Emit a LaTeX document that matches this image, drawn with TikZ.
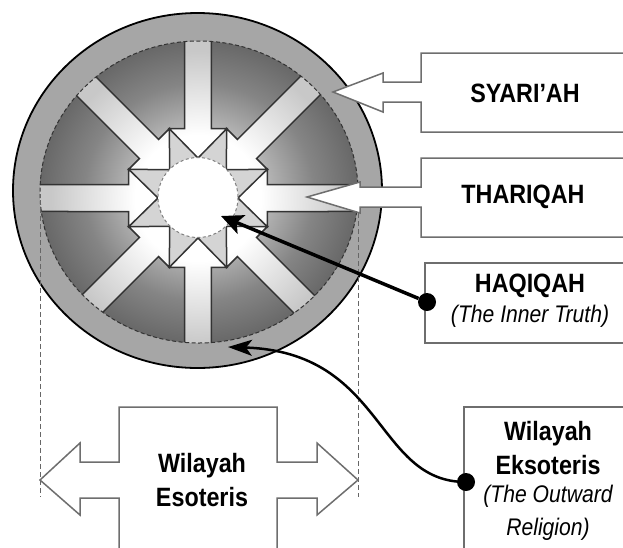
\documentclass[tikz,border=0pt]{standalone}
\usepackage{fontspec}
\setmainfont{Liberation Sans}
\newfontfamily\lab[FakeStretch=0.88]{Liberation Sans}
\usetikzlibrary{arrows.meta}
\definecolor{ringgray}{HTML}{A6A6A6}
\definecolor{discdark}{HTML}{686868}
\definecolor{discmid}{HTML}{858585}
\definecolor{disclight}{HTML}{B4B4B4}
\definecolor{gapgray}{HTML}{D4D4D4}
\definecolor{shaftgray}{HTML}{C8C8C8}
\definecolor{linegray}{HTML}{333333}
\definecolor{boxgray}{HTML}{6E6E6E}
\pgfdeclareradialshading{discshade}{\pgfpoint{0bp}{0bp}}{color(0bp)=(white); color(5bp)=(white); color(11bp)=(disclight); color(18bp)=(discmid); color(25bp)=(discdark); color(50bp)=(discdark)}
\pgfdeclareradialshading{arrowshade}{\pgfpoint{0bp}{0bp}}{color(0bp)=(white); color(9bp)=(white); color(21bp)=(shaftgray); color(50bp)=(shaftgray)}
\begin{document}
\begin{tikzpicture}[x=1pt,y=-1pt,
  boxline/.style={draw=boxgray,line width=1.5pt,fill=white,line join=miter},
  arrowline/.style={draw=linegray,line width=1.5pt,line join=miter},
  capslabel/.style={font=\lab\bfseries\fontsize{26.5}{30}\selectfont,inner sep=0pt},
  boldlabel/.style={font=\lab\bfseries\fontsize{26.5}{34}\selectfont,inner sep=0pt,align=center},
  itlabel/.style={font=\lab\itshape\fontsize{24}{30}\selectfont,inner sep=0pt},
  dot/.style={circle,fill=black,inner sep=0pt,minimum size=18pt},
  conn/.style={line width=3.5pt,-{Stealth[length=22pt,width=20pt,inset=5pt]}},
  conntwo/.style={line width=2.5pt,-{Stealth[length=24pt,width=16pt,inset=6pt]}}]
\useasboundingbox (0,0) rectangle (623,547);
% ring
\fill[ringgray] (197.5,190.5) ellipse [x radius=184.5, y radius=177.5];
% disc
\shade[shading=discshade] (199,192) ellipse [x radius=159, y radius=151];
\begin{scope}
  \clip (199,192) ellipse [x radius=159, y radius=151];
  \begin{scope}[shift={(198,198)}]
    \fill[gapgray] \foreach \a in {0,90,180,270} {
      ({\a+22.5}:75) -- (\a:40) -- ({\a+45}:40) -- cycle
      ({\a-22.5}:75) -- (\a:40) -- ({\a-45}:40) -- cycle};
    \begin{scope}
      \clip \foreach \a in {0,45,...,315} {
        ({\a+4.41}:175.5) -- ({\a+11.02}:70.6) -- ({\a+22.5}:75) -- (\a:40)
        -- ({\a-22.5}:75) -- ({\a-11.02}:70.6) -- ({\a-4.41}:175.5) -- cycle};
      \shade[shading=arrowshade] (0,0) circle [radius=175];
    \end{scope}
    \foreach \a in {0,45,...,315} {
      \draw[arrowline] ({\a+4.41}:175.5) -- ({\a+11.02}:70.6) -- ({\a+22.5}:75) -- (\a:40)
        -- ({\a-22.5}:75) -- ({\a-11.02}:70.6) -- ({\a-4.41}:175.5);
    }
  \end{scope}
\end{scope}
\draw[linegray,line width=1pt,dash pattern=on 4pt off 2.5pt] (199,192) ellipse [x radius=159, y radius=151];
\draw[black,line width=1.8pt] (197.5,190.5) ellipse [x radius=184.5, y radius=177.5];
% center circle
\filldraw[fill=white,draw=gray,line width=1pt,dash pattern=on 3pt off 2.5pt] (198,197.5) circle [radius=40];
% vertical dashed lines
\draw[gray!80!black,line width=1pt,dash pattern=on 5pt off 3pt] (40.5,200) -- (40.5,497);
\draw[gray!80!black,line width=1pt,dash pattern=on 5pt off 3pt] (358,205) -- (358,497);
% right boxes
\path[boxline] (624,53) -- (421,53) -- (421,82) -- (383,82) -- (383,73) -- (333,92)
  -- (383,112) -- (383,102) -- (421,102) -- (421,132) -- (624,132);
\path[boxline] (624,158) -- (421,158) -- (421,187) -- (360,187) -- (360,182) -- (307,197)
  -- (360,213) -- (360,207) -- (421,207) -- (421,237) -- (624,237);
\path[boxline] (624,263) -- (425,263) -- (425,343) -- (624,343);
\path[boxline] (624,407) -- (464,407) -- (464,548);
% esoteris double arrow
\path[boxline] (119,548) -- (119,498) -- (80,498) -- (80,515) -- (40,480) -- (80,443)
  -- (80,462) -- (119,462) -- (119,407) -- (277,407) -- (277,462) -- (317,462)
  -- (317,443) -- (358,480) -- (317,515) -- (317,498) -- (277,498) -- (277,548);
% labels
\node[capslabel] (syr) at (525,93) {SYARI’AH};
\node[capslabel] (thr) at (523,197) {THARIQAH};
\node[capslabel] (haq) at (530,286) {HAQIQAH};
\node[itlabel] (haqi) at (530,316) {(The Inner Truth)};
\node[boldlabel] (eso) at (202,480) {Wilayah\\Esoteris};
\node[boldlabel] (eks1) at (548,448) {Wilayah\\Eksoteris};
\node[itlabel,align=center,font=\lab\itshape\fontsize{24}{33}\selectfont] (eks2) at (548,513) {(The Outward\\Religion)};
% connectors
\node[dot] (hdot) at (427,302) {};
\coordinate (htip) at (221,216);
\draw[conn] (hdot) -- (htip);
\node[dot] (edot) at (466,482) {};
\coordinate (etip) at (228,347);
\draw[conntwo] (edot.center) .. controls (375,482) and (385,352) .. (etip);
\end{tikzpicture}
\end{document}
